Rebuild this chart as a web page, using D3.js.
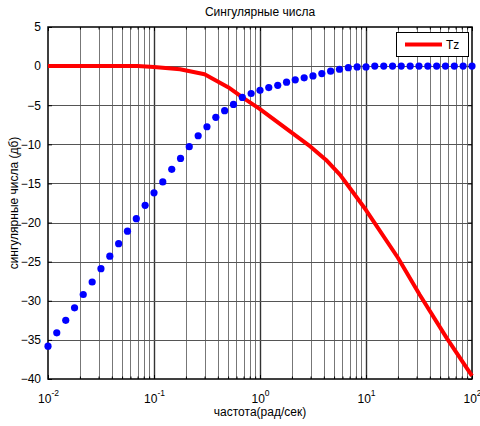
<!DOCTYPE html>
<html>
<head>
<meta charset="utf-8">
<title>Сингулярные числа</title>
<script src="https://d3js.org/d3.v7.min.js"></script>
<style>
  body { margin: 0; background: #fff; }
  text { font-family: "Liberation Sans", Arial, sans-serif; fill: #000; }
</style>
</head>
<body>
<div id="chart"></div>
<script>
// frequencies of the dotted series (rad/s), 12 per decade
var freqs = [
  0.0100, 0.0121, 0.0147, 0.0178, 0.0215, 0.0261, 0.0316, 0.0383, 0.0464, 0.0562, 0.0681, 0.0825,
  0.100, 0.121, 0.147, 0.178, 0.215, 0.261, 0.316, 0.383, 0.464, 0.562, 0.681, 0.825,
  1.00, 1.21, 1.47, 1.78, 2.15, 2.61, 3.16, 3.83, 4.64, 5.62, 6.81, 8.25,
  10.0, 12.1, 14.7, 17.8, 21.5, 26.1, 31.6, 38.3, 46.4, 56.2, 68.1, 82.5, 100
];
// second singular value, dB
var svDots = [
  -35.8, -34.1, -32.5, -30.9, -29.2, -27.6, -25.9, -24.3, -22.7, -21.1, -19.5, -17.8,
  -16.2, -14.8, -13.2, -11.8, -10.3, -8.9, -7.75, -6.55, -5.7, -4.9, -4.0, -3.5,
  -3.1, -2.75, -2.45, -2.05, -1.75, -1.5, -1.25, -0.95, -0.65, -0.4, -0.2, -0.1,
  -0.1, 0, 0, 0, 0, 0, 0, 0, 0, 0, 0, 0, 0
];
// Tz curve
var tzFreq = [0.01, 0.07, 0.1, 0.176, 0.3, 0.5, 0.7, 1.0, 3.0, 4.2, 5.7, 7.5, 10, 20, 32, 58, 100];
var tzDb   = [0, 0, -0.1, -0.4, -1.05, -2.7, -4.1, -5.5, -10.3, -12.0, -13.9, -16.1, -18.4, -24.5, -29.2, -34.8, -39.6];

var xMajor = [0.01, 0.1, 1, 10, 100];
var xMajorExp = ["-2", "-1", "0", "1", "2"];
var yTicks = [-40, -35, -30, -25, -20, -15, -10, -5, 0, 5];

var title = "Сингулярные числа";
var xTitle = "частота(рад/сек)";
var yTitle = "сингулярные числа (дб)";
var legendLabel = "Tz";

const W = 480, H = 426;
const margin = {top: 27, right: 8, bottom: 47, left: 48};
const plotW = W - margin.left - margin.right;
const plotH = H - margin.top - margin.bottom;

var svg = d3.select("#chart").append("svg")
  .attr("width", W).attr("height", H);
svg.append("rect").attr("width", W).attr("height", H).attr("fill", "#fff");

var x = d3.scaleLog().domain([0.01, 100]).range([0, plotW]);
var y = d3.scaleLinear().domain([-40, 5]).range([plotH, 0]);

var g = svg.append("g").attr("transform", "translate(" + margin.left + "," + margin.top + ")");

// minor + major log ticks
var xAll = x.ticks();
var xMinor = xAll.filter(function(v) { return xMajor.indexOf(v) < 0; });

// grid
var grid = g.append("g");
grid.selectAll(".vminor").data(xMinor).enter().append("line")
  .attr("x1", function(d) { return Math.round(x(d)) + 0.5; })
  .attr("x2", function(d) { return Math.round(x(d)) + 0.5; })
  .attr("y1", 0).attr("y2", plotH)
  .attr("stroke", "#777").attr("stroke-width", 1);
grid.selectAll(".vmajor").data(xMajor.slice(1, -1)).enter().append("line")
  .attr("x1", function(d) { return Math.round(x(d)) + 0.5; })
  .attr("x2", function(d) { return Math.round(x(d)) + 0.5; })
  .attr("y1", 0).attr("y2", plotH)
  .attr("stroke", "#333").attr("stroke-width", 1.4);
grid.selectAll(".hgrid").data(yTicks.slice(1, -1)).enter().append("line")
  .attr("x1", 0).attr("x2", plotW)
  .attr("y1", function(d) { return Math.round(y(d)) + 0.5; })
  .attr("y2", function(d) { return Math.round(y(d)) + 0.5; })
  .attr("stroke", "#555").attr("stroke-width", 1);

// axes (ticks pointing inward)
var xAxisB = g.append("g").attr("transform", "translate(0," + plotH + ")")
  .call(d3.axisBottom(x).tickValues(xMajor).tickSize(-4).tickFormat(function() { return ""; }));
g.append("g")
  .call(d3.axisTop(x).tickValues(xMajor).tickSize(-4).tickFormat(""));
g.append("g").attr("transform", "translate(0," + plotH + ")")
  .call(d3.axisBottom(x).tickValues(xMinor).tickSize(-2.5).tickFormat(""));
g.append("g")
  .call(d3.axisTop(x).tickValues(xMinor).tickSize(-2.5).tickFormat(""));
var yAxisL = g.append("g")
  .call(d3.axisLeft(y).tickValues(yTicks).tickSize(-4).tickPadding(7).tickFormat(d3.format("d")));
g.append("g").attr("transform", "translate(" + plotW + ",0)")
  .call(d3.axisRight(y).tickValues(yTicks).tickSize(-4).tickFormat(""));

g.selectAll(".domain").remove();
g.selectAll(".tick line").attr("stroke", "#000");
yAxisL.selectAll("text").attr("font-size", 12)
  .attr("font-family", "Liberation Sans, Arial, sans-serif");

// x tick labels: 10 with exponent
xAxisB.selectAll(".tick").each(function(d, i) {
  var t = d3.select(this).append("text")
    .attr("y", 24).attr("text-anchor", "middle")
    .attr("font-size", 12).attr("fill", "#000");
  t.append("tspan").text("10");
  t.append("tspan").attr("dy", -7).attr("font-size", 8.5).text(xMajorExp[i]);
});

// box
g.append("rect").attr("x", 0).attr("y", 0).attr("width", plotW).attr("height", plotH)
  .attr("fill", "none").attr("stroke", "#000").attr("stroke-width", 1.5);

// Tz line
var tzData = tzFreq.map(function(f, i) { return [f, tzDb[i]]; });
g.append("path").datum(tzData)
  .attr("fill", "none").attr("stroke", "#ff0000").attr("stroke-width", 4)
  .attr("stroke-linejoin", "round")
  .attr("d", d3.line().x(function(d) { return x(d[0]); }).y(function(d) { return y(d[1]); }));

// dotted series
g.selectAll(".dot").data(svDots).enter().append("circle")
  .attr("cx", function(d, i) { return x(freqs[i]); })
  .attr("cy", function(d) { return y(d); })
  .attr("r", 3.6).attr("fill", "#0000ff");

// legend
var lg = g.append("g").attr("transform", "translate(" + (plotW - 76) + ",5)");
lg.append("rect").attr("x", 0.5).attr("y", 0.5).attr("width", 72).attr("height", 24)
  .attr("fill", "#fff").attr("stroke", "#000").attr("stroke-width", 1);
lg.append("line").attr("x1", 9).attr("x2", 46).attr("y1", 12.5).attr("y2", 12.5)
  .attr("stroke", "#ff0000").attr("stroke-width", 4);
lg.append("text").attr("x", 50).attr("y", 17).attr("font-size", 12).text(legendLabel);

// titles
svg.append("text").attr("x", margin.left + plotW / 2).attr("y", 16)
  .attr("text-anchor", "middle").attr("font-size", 12).text(title);
svg.append("text").attr("x", margin.left + plotW / 2).attr("y", 416)
  .attr("text-anchor", "middle").attr("font-size", 12).text(xTitle);
svg.append("text").attr("transform", "translate(18," + (margin.top + plotH / 2) + ") rotate(-90)")
  .attr("text-anchor", "middle").attr("font-size", 12).text(yTitle);
</script>
</body>
</html>
